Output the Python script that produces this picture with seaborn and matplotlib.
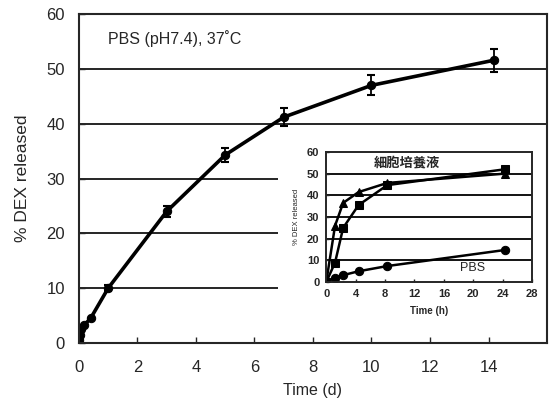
import numpy as np
import pandas as pd
import matplotlib
matplotlib.use("Agg")
import matplotlib.pyplot as plt
import seaborn as sns

# main panel: release in PBS over days
days = [0, 0.04, 0.08, 0.17, 0.4, 1, 3, 5, 7, 10, 14.2]
release = [0.5, 1.5, 2.5, 3.2, 4.5, 10, 24, 34.3, 41.2, 47, 51.6]
release_err = [0, 0, 0, 0, 0, 0.5, 1.0, 1.2, 1.6, 1.8, 2.1]

# inset: release over hours
hours = [0, 1.2, 2.3, 4.4, 8.3, 24.3]
medium_tri = [0, 26, 36.5, 41.5, 45.7, 50]
medium_sq = [0, 9, 25, 35.5, 44.7, 52]
pbs = [0, 2, 3.2, 5, 7.4, 14.8]

sns.set_style("ticks")
plt.rcParams['font.family'] = ['Liberation Sans', 'Noto Sans CJK JP', 'DejaVu Sans']

fig = plt.figure(figsize=(5.52, 4.03), dpi=100)
ax = fig.add_axes([0.143, 0.149, 0.848, 0.816])

df = pd.DataFrame({'Time': days, 'Release': release})
sns.lineplot(x='Time', y='Release', data=df, ax=ax, color='black', lw=2.6,
             marker='o', markersize=6, markeredgecolor='black', errorbar=None)
ax.errorbar(days, release, yerr=release_err, fmt='none', ecolor='black',
            elinewidth=1.3, capsize=3, capthick=1.5)

for v in [40, 50]:
    ax.hlines(v, 0, 16, color='black', lw=1.2, zorder=0)
for v in [10, 20, 30]:
    ax.hlines(v, 0, 6.8, color='black', lw=1.2, zorder=0)

ax.set_xlim(0, 16)
ax.set_ylim(0, 60)
ax.set_xticks(range(0, 15, 2))
ax.set_yticks(range(0, 61, 10))
ax.tick_params(direction='in', length=4, width=1, labelsize=12)
ax.tick_params(axis='x', pad=12)
ax.tick_params(axis='y', pad=10)
for s in ax.spines.values():
    s.set_linewidth(1.5)
ax.set_xlabel("Time (d)", fontsize=11.5, labelpad=6)
ax.set_ylabel("% DEX released", fontsize=12.5, labelpad=12)
ax.text(1.0, 55.5, "PBS (pH7.4), 37˚C", fontsize=11.5, va='center')

# inset
ins = fig.add_axes([0.591, 0.300, 0.373, 0.323])
ins.set_facecolor('white')
for v in range(10, 60, 10):
    ins.axhline(v, color='black', lw=1.3, zorder=0)
ins_df = pd.DataFrame({'Time': hours * 3,
                       'Release': medium_tri + medium_sq + pbs,
                       'Series': ['tri'] * 6 + ['sq'] * 6 + ['pbs'] * 6})
sns.lineplot(x='Time', y='Release', hue='Series', style='Series', data=ins_df, ax=ins,
             palette=['black', 'black', 'black'], markers=['^', 's', 'o'], dashes=False,
             lw=1.8, markersize=6, markeredgecolor='black', legend=False, errorbar=None)
ins.set_xlim(0, 28)
ins.set_ylim(0, 60)
ins.set_xticks(range(0, 29, 4))
ins.set_yticks(range(0, 61, 10))
ins.tick_params(direction='in', length=2.5, width=1, labelsize=8, pad=5)
for lab in ins.get_xticklabels() + ins.get_yticklabels():
    lab.set_fontweight('bold')
for s in ins.spines.values():
    s.set_linewidth(1.4)
ins.set_xlabel("Time (h)", fontsize=7, fontweight='bold', labelpad=5)
ins.set_ylabel("% DEX released", fontsize=5.5, labelpad=5)
ins.text(6.5, 55, "細胞培養液", fontsize=9.5, fontweight='bold',
         family=['Noto Sans CJK JP'], va='center')
ins.text(18.2, 6.5, "PBS", fontsize=9, va='center')

fig.savefig("out.png", dpi=100)
